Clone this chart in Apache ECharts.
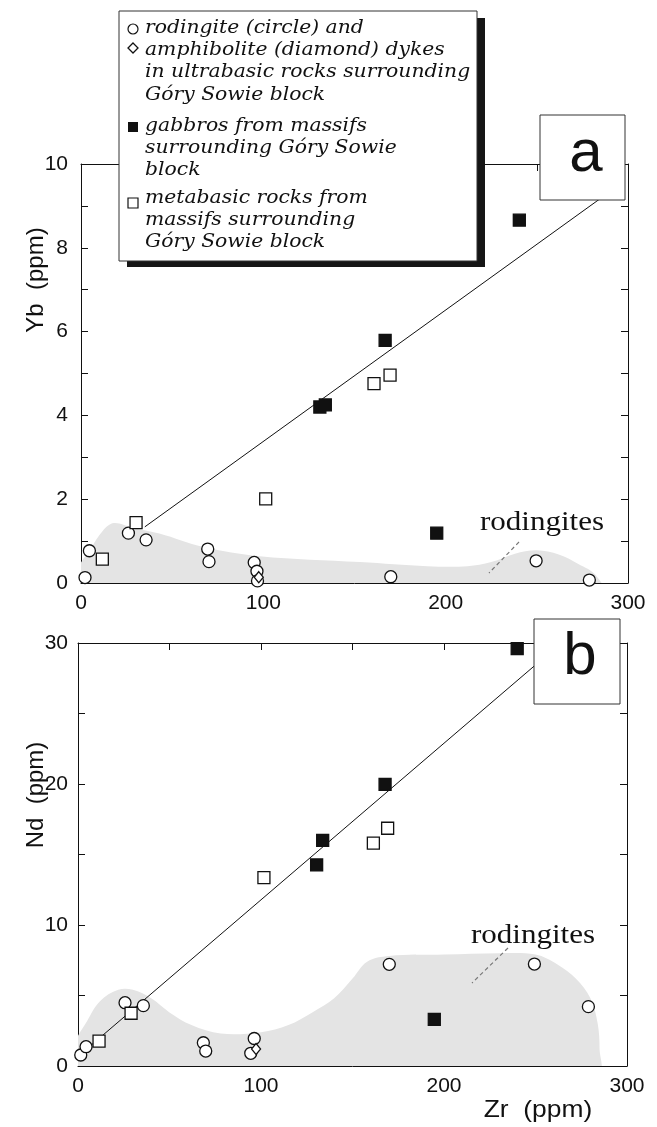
<!DOCTYPE html>
<html><head><meta charset="utf-8">
<script src="https://cdn.jsdelivr.net/npm/echarts@6/dist/echarts.min.js"></script>
<style>html,body{margin:0;padding:0;background:#fff}#c{width:657px;height:1127px}</style>
</head><body><div id="c"></div>
<script>
// ---------- data ----------
const xTicks = [0, 100, 200, 300];
const ybTicks = [0, 2, 4, 6, 8, 10];
const ndTicks = [0, 10, 20, 30];

// panel a : Yb vs Zr
const rodingiteA = [[2.2,0.13],[4.6,0.77],[26,1.19],[35.7,1.03],[69.5,0.81],[70.2,0.51],[95,0.49],[96.5,0.28],[96.8,0.05],[169.9,0.15],[249.6,0.53],[278.8,0.07]];
const amphiboliteA = [[97.5,0.14]];
const gabbroA = [[131,4.2],[134,4.25],[166.8,5.79],[195.1,1.19],[240.4,8.66]];
const metabasicA = [[11.7,0.57],[30.2,1.44],[101.3,2.01],[160.7,4.76],[169.5,4.96]];
const fitA = [[35,1.34],[292,9.4]];
const fieldA = [[-2,-0.3],[-2,0.3],[5,0.8],[12,1.25],[18,1.43],[28,1.32],[43,1.18],[67,0.86],[98,0.64],[153,0.5],[190,0.4],[212,0.4],[225,0.5],[238,0.7],[250,0.78],[262,0.68],[273,0.45],[282,0.2],[287,-0.3]];

// panel b : Nd vs Zr
const rodingiteB = [[1.5,0.78],[4.4,1.37],[25.7,4.49],[35.7,4.28],[68.5,1.65],[69.8,1.06],[96.3,1.95],[94.4,0.9],[170.1,7.21],[249.4,7.23],[278.9,4.21]];
const amphiboliteB = [[97.3,1.2]];
const gabbroB = [[130.4,14.26],[133.7,16.0],[167.8,19.98],[194.7,3.31],[240,29.6]];
const metabasicB = [[11.5,1.77],[29,3.74],[101.6,13.36],[161.4,15.8],[169.2,16.86]];
const fitB = [[2,0.9],[264,30]];
const fieldB = [[-2,-0.5],[-2,1.5],[5,3.2],[12,4.6],[22,5.4],[30,5.4],[40,4.8],[50,3.8],[62,2.9],[78,2.3],[100,2.4],[115,2.9],[128,3.8],[140,4.8],[150,6.2],[158,7.4],[170,7.8],[200,7.9],[230,8.0],[250,7.9],[262,7.2],[272,6.2],[280,4.8],[284,3],[285,1.2],[284,-0.5]];

const legendLines = [
  ['rodingite (circle) and', 'amphibolite (diamond) dykes', 'in ultrabasic rocks surrounding', 'Góry Sowie block'],
  ['gabbros from massifs', 'surrounding Góry Sowie', 'block'],
  ['metabasic rocks from', 'massifs surrounding', 'Góry Sowie block']
];

// ---------- chart ----------
const INK = '#111';
const tickFont = {fontFamily: 'Liberation Sans, Arial, sans-serif', fontSize: 21, color: INK};

function makeX(grid, pos, labels) {
  return {
    type: 'value', gridIndex: grid, position: pos, min: 0, max: 300, interval: 100,
    axisLine: {show: true, onZero: false, lineStyle: {color: INK, width: 1}},
    axisTick: {show: true, inside: true, length: 7, lineStyle: {color: INK, width: 1}},
    minorTick: {show: true, splitNumber: 2, length: 7, lineStyle: {color: INK, width: 1}},
    splitLine: {show: false}, minorSplitLine: {show: false},
    axisLabel: {show: labels, margin: 10, ...tickFont,
      formatter: v => xTicks.includes(v) ? String(v) : ''}
  };
}
function makeY(grid, pos, labels, max, interval, ticks, margin) {
  return {
    type: 'value', gridIndex: grid, position: pos, min: 0, max: max, interval: interval,
    axisLine: {show: true, onZero: false, lineStyle: {color: INK, width: 1}},
    axisTick: {show: true, inside: true, length: 7, lineStyle: {color: INK, width: 1}},
    minorTick: {show: true, splitNumber: 2, length: 7, lineStyle: {color: INK, width: 1}},
    splitLine: {show: false}, minorSplitLine: {show: false},
    axisLabel: {show: labels, margin: margin, ...tickFont,
      formatter: v => ticks.includes(v) ? String(v) : ''}
  };
}

function field(data, xi, yi) {
  return {
    type: 'custom', xAxisIndex: xi, yAxisIndex: yi, silent: true, z: 1, clip: true,
    data: data,
    renderItem: function (params, api) {
      if (params.dataIndex !== 0) return null;
      const pts = data.map(p => api.coord(p));
      return {type: 'polygon', shape: {points: pts, smooth: 0.35}, style: {fill: '#e4e4e4', stroke: null}};
    }
  };
}
function fit(data, xi, yi) {
  return {type: 'line', xAxisIndex: xi, yAxisIndex: yi, data: data, symbol: 'none', z: 2, silent: true,
    lineStyle: {color: INK, width: 1}};
}
function pts(name, data, xi, yi, symbol, size, fill) {
  return {type: 'scatter', name: name, xAxisIndex: xi, yAxisIndex: yi, data: data, symbol: symbol,
    symbolSize: size, z: 3, itemStyle: {color: fill, borderColor: INK, borderWidth: 1.3, opacity: 1}};
}

const serifIt = 'italic 19px "DejaVu Serif", serif';
const graphics = [];
// legend box
graphics.push({type: 'rect', shape: {x: 127, y: 18, width: 358, height: 249}, style: {fill: '#151515'}, z: 100});
graphics.push({type: 'rect', shape: {x: 119, y: 11, width: 358, height: 250}, style: {fill: '#fff', stroke: '#333', lineWidth: 1}, z: 101});
const lineY = [[28, 50, 72, 95], [126, 148, 170], [198, 220, 242]];
legendLines.forEach((grp, gi) => grp.forEach((t, li) => {
  graphics.push({type: 'text', x: 145, y: lineY[gi][li], scaleX: 1.07, z: 102,
    style: {text: t, font: serifIt, fill: INK, verticalAlign: 'middle', align: 'left'}});
}));
graphics.push({type: 'circle', shape: {cx: 133, cy: 29, r: 5}, style: {fill: '#fff', stroke: INK, lineWidth: 1.2}, z: 102});
graphics.push({type: 'polygon', shape: {points: [[133, 43], [138, 48], [133, 53], [128, 48]]}, style: {fill: '#fff', stroke: INK, lineWidth: 1.3}, z: 102});
graphics.push({type: 'rect', shape: {x: 128, y: 122, width: 10, height: 10}, style: {fill: INK}, z: 102});
graphics.push({type: 'rect', shape: {x: 128, y: 198, width: 10, height: 10}, style: {fill: '#fff', stroke: INK, lineWidth: 1.2}, z: 102});
// panel labels
graphics.push({type: 'rect', shape: {x: 540, y: 115, width: 85, height: 85}, style: {fill: '#fff', stroke: '#333', lineWidth: 1}, z: 100});
graphics.push({type: 'text', x: 586, y: 154, z: 101, style: {text: 'a', font: '60px "Liberation Sans", Arial, sans-serif', fill: INK, align: 'center', verticalAlign: 'middle'}});
graphics.push({type: 'rect', shape: {x: 534, y: 619, width: 86, height: 85}, style: {fill: '#fff', stroke: '#333', lineWidth: 1}, z: 100});
graphics.push({type: 'text', x: 580, y: 657, z: 101, style: {text: 'b', font: '60px "Liberation Sans", Arial, sans-serif', fill: INK, align: 'center', verticalAlign: 'middle'}});
// axis titles
const titleFont = '24px "Liberation Sans", Arial, sans-serif';
graphics.push({type: 'text', x: 36, y: 280, rotation: Math.PI / 2, z: 50, style: {text: 'Yb  (ppm)', font: titleFont, fill: INK, align: 'center', verticalAlign: 'middle'}});
graphics.push({type: 'text', x: 36, y: 795, rotation: Math.PI / 2, z: 50, style: {text: 'Nd  (ppm)', font: titleFont, fill: INK, align: 'center', verticalAlign: 'middle'}});
graphics.push({type: 'text', x: 538, y: 1110, scaleX: 1.1, z: 50, style: {text: 'Zr  (ppm)', font: titleFont, fill: INK, align: 'center', verticalAlign: 'middle'}});
// rodingites annotations
const rodFont = '27px "Liberation Serif", "Times New Roman", serif';
graphics.push({type: 'text', x: 542, y: 523, scaleX: 1.15, z: 50, style: {text: 'rodingites', font: rodFont, fill: INK, align: 'center', verticalAlign: 'middle'}});
graphics.push({type: 'text', x: 533, y: 936, scaleX: 1.15, z: 50, style: {text: 'rodingites', font: rodFont, fill: INK, align: 'center', verticalAlign: 'middle'}});
graphics.push({type: 'line', shape: {x1: 519, y1: 542, x2: 489, y2: 573}, style: {stroke: '#777', lineWidth: 1.2, lineDash: [4, 3]}, z: 50});
graphics.push({type: 'line', shape: {x1: 508, y1: 948, x2: 472, y2: 983}, style: {stroke: '#777', lineWidth: 1.2, lineDash: [4, 3]}, z: 50});

const option = {
  animation: false,
  backgroundColor: '#fff',
  grid: [
    {left: 81, top: 164, width: 547, height: 419, outerBoundsMode: 'none', containLabel: false},
    {left: 78, top: 643, width: 549, height: 423, outerBoundsMode: 'none', containLabel: false}
  ],
  xAxis: [makeX(0, 'bottom', true), makeX(0, 'top', false), makeX(1, 'bottom', true), makeX(1, 'top', false)],
  yAxis: [
    makeY(0, 'left', true, 10, 2, ybTicks, 13), makeY(0, 'right', false, 10, 2, ybTicks, 13),
    makeY(1, 'left', true, 30, 10, ndTicks, 10), makeY(1, 'right', false, 30, 10, ndTicks, 10)
  ],
  series: [
    field(fieldA, 0, 0), fit(fitA, 0, 0),
    pts('rodingite', rodingiteA, 0, 0, 'circle', 12, '#fff'),
    pts('amphibolite', amphiboliteA, 0, 0, 'diamond', [9, 11], '#fff'),
    pts('metabasic', metabasicA, 0, 0, 'rect', 12, '#fff'),
    pts('gabbro', gabbroA, 0, 0, 'rect', 12, INK),
    field(fieldB, 2, 2), fit(fitB, 2, 2),
    pts('rodingite', rodingiteB, 2, 2, 'circle', 12, '#fff'),
    pts('amphibolite', amphiboliteB, 2, 2, 'diamond', [9, 11], '#fff'),
    pts('metabasic', metabasicB, 2, 2, 'rect', 12, '#fff'),
    pts('gabbro', gabbroB, 2, 2, 'rect', 12, INK)
  ],
  graphic: graphics
};
const chart = echarts.init(document.getElementById('c'));
chart.setOption(option);
</script></body></html>
